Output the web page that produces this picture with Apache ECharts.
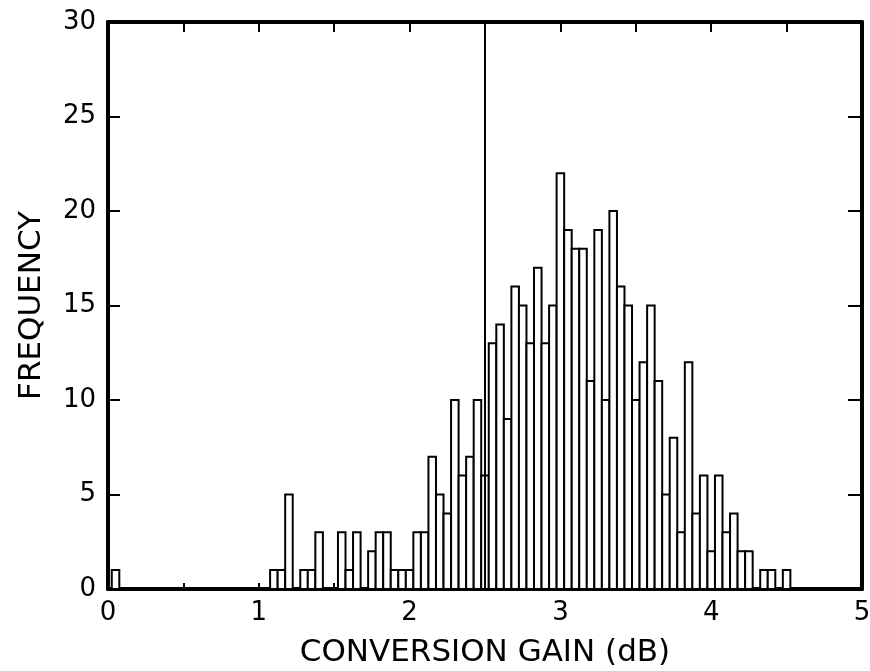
<!DOCTYPE html>
<html>
<head>
<meta charset="utf-8">
<script src="https://cdn.jsdelivr.net/npm/echarts@6/dist/echarts.min.js"></script>
<style>html,body{margin:0;padding:0;background:#fff;}#chart{width:870px;height:671px;}</style>
</head>
<body>
<div id="chart"></div>
<script>
const gainBins = [0.05,
  1.10,1.15,1.20,1.25,1.30,1.35,1.40,1.45,1.50,1.55,
  1.60,1.65,1.70,1.75,1.80,1.85,1.90,1.95,2.00,2.05,
  2.10,2.15,2.20,2.25,2.30,2.35,2.40,2.45,2.50,2.55,
  2.60,2.65,2.70,2.75,2.80,2.85,2.90,2.95,3.00,3.05,
  3.10,3.15,3.20,3.25,3.30,3.35,3.40,3.45,3.50,3.55,
  3.60,3.65,3.70,3.75,3.80,3.85,3.90,3.95,4.00,4.05,
  4.10,4.15,4.20,4.25,4.30,4.35,4.40,4.45,4.50];
const frequency = [1,
  1,1,5,0,1,1,3,0,0,3,
  1,3,0,2,3,3,1,1,1,3,
  3,7,5,4,10,6,7,10,6,13,
  14,9,16,15,13,17,13,15,22,19,
  18,18,11,19,10,20,16,15,10,12,
  15,11,5,8,3,12,4,6,2,6,
  3,4,2,2,0,1,1,0,1];
const binWidth = 0.05;
const thresholdGain = 2.5;
const xTicks = [0, 1, 2, 3, 4, 5];
const yTicks = [0, 5, 10, 15, 20, 25, 30];
const xTitle = 'CONVERSION GAIN (dB)';
const yTitle = 'FREQUENCY';

const chart = echarts.init(document.getElementById('chart'), null, {renderer: 'canvas'});
const font = 'DejaVu Sans';
const lineStyle = {color: '#000', width: 4};
const xMin = xTicks[0], xMax = xTicks[xTicks.length - 1];
const yMin = yTicks[0], yMax = yTicks[yTicks.length - 1];

const option = {
  backgroundColor: '#fff',
  animation: false,
  grid: {left: 108, right: 8, top: 22, bottom: 82, containLabel: false, outerBoundsMode: 'none'},
  xAxis: [
    {
      type: 'value', position: 'bottom', min: xMin, max: xMax, interval: 0.5,
      axisLine: {show: true, onZero: false, lineStyle: lineStyle},
      axisTick: {show: true, inside: true, length: 6, lineStyle: {color: '#000', width: 2}},
      axisLabel: {
        color: '#000', fontFamily: font, fontSize: 26, margin: 11,
        formatter: v => (xTicks.indexOf(v) >= 0 ? String(v) : '')
      },
      splitLine: {show: false},
      name: xTitle, nameLocation: 'middle', nameGap: 48,
      nameTextStyle: {color: '#000', fontFamily: font, fontSize: 31}
    },
    {
      type: 'value', position: 'top', min: xMin, max: xMax, interval: 0.5,
      axisLine: {show: true, onZero: false, lineStyle: lineStyle},
      axisTick: {show: true, inside: true, length: 10, lineStyle: {color: '#000', width: 2}},
      axisLabel: {show: false}, splitLine: {show: false}
    }
  ],
  yAxis: [
    {
      type: 'value', position: 'left', min: yMin, max: yMax, interval: 5,
      axisLine: {show: true, onZero: false, lineStyle: lineStyle},
      axisTick: {show: true, inside: true, length: 12, lineStyle: {color: '#000', width: 2}},
      axisLabel: {color: '#000', fontFamily: font, fontSize: 26, margin: 12},
      splitLine: {show: false},
      name: yTitle, nameLocation: 'middle', nameGap: 61, nameRotate: 90,
      nameTextStyle: {color: '#000', fontFamily: font, fontSize: 31}
    },
    {
      type: 'value', position: 'right', min: yMin, max: yMax, interval: 5,
      axisLine: {show: true, onZero: false, lineStyle: lineStyle},
      axisTick: {show: true, inside: true, length: 14, lineStyle: {color: '#000', width: 2}},
      axisLabel: {show: false}, splitLine: {show: false}
    }
  ],
  series: [
    {
      type: 'custom',
      xAxisIndex: 0, yAxisIndex: 0,
      data: gainBins.map((g, i) => [g, frequency[i]]),
      renderItem: function (params, api) {
        const x = api.value(0), y = api.value(1);
        if (!y) return null;
        const p0 = api.coord([x - binWidth / 2, y]);
        const p1 = api.coord([x + binWidth / 2, 0]);
        return {
          type: 'rect',
          shape: {x: p0[0], y: p0[1], width: p1[0] - p0[0], height: p1[1] - p0[1]},
          style: {fill: '#fff', stroke: '#000', lineWidth: 2}
        };
      },
      z: 2
    },
    {
      type: 'line',
      xAxisIndex: 0, yAxisIndex: 0,
      data: [[thresholdGain, yMin], [thresholdGain, yMax]],
      symbol: 'none',
      lineStyle: {color: '#000', width: 2},
      z: 3
    }
  ]
};
chart.setOption(option);
</script>
</body>
</html>
